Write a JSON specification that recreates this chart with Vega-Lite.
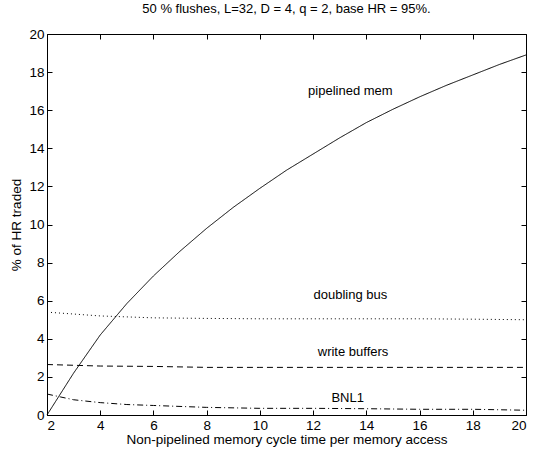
{
  "$schema": "https://vega.github.io/schema/vega-lite/v6.json",
  "autosize": "none",
  "width": 479,
  "height": 381,
  "padding": {"left": 47, "top": 34, "right": 7, "bottom": 34},
  "background": "white",
  "title": {"text": "50 % flushes, L=32, D = 4, q = 2, base HR = 95%.", "font": "Liberation Sans", "fontSize": 13, "fontWeight": "normal", "color": "black", "offset": 11, "anchor": "middle"},
  "config": {
    "view": {"stroke": "black", "strokeWidth": 1},
    "axis": {"grid": false, "domainColor": "black", "tickColor": "black", "labelColor": "black", "titleColor": "black", "labelFont": "Liberation Sans", "titleFont": "Liberation Sans", "labelFontSize": 13.5, "titleFontSize": 13.5, "titleFontWeight": "normal", "tickSize": -5, "labelPadding": 8}
  },
  "datasets": {
    "curves": [
      {"x": 2, "y": 0, "series": "pipelined mem"},
      {"x": 3, "y": 2.2, "series": "pipelined mem"},
      {"x": 4, "y": 4.2, "series": "pipelined mem"},
      {"x": 5, "y": 5.85, "series": "pipelined mem"},
      {"x": 6, "y": 7.3, "series": "pipelined mem"},
      {"x": 7, "y": 8.6, "series": "pipelined mem"},
      {"x": 8, "y": 9.8, "series": "pipelined mem"},
      {"x": 9, "y": 10.9, "series": "pipelined mem"},
      {"x": 10, "y": 11.9, "series": "pipelined mem"},
      {"x": 11, "y": 12.85, "series": "pipelined mem"},
      {"x": 12, "y": 13.7, "series": "pipelined mem"},
      {"x": 13, "y": 14.55, "series": "pipelined mem"},
      {"x": 14, "y": 15.35, "series": "pipelined mem"},
      {"x": 15, "y": 16.05, "series": "pipelined mem"},
      {"x": 16, "y": 16.7, "series": "pipelined mem"},
      {"x": 17, "y": 17.3, "series": "pipelined mem"},
      {"x": 18, "y": 17.85, "series": "pipelined mem"},
      {"x": 19, "y": 18.4, "series": "pipelined mem"},
      {"x": 20, "y": 18.9, "series": "pipelined mem"},
      {"x": 2, "y": 5.4, "series": "doubling bus"},
      {"x": 3, "y": 5.3, "series": "doubling bus"},
      {"x": 4, "y": 5.2, "series": "doubling bus"},
      {"x": 5, "y": 5.15, "series": "doubling bus"},
      {"x": 6, "y": 5.1, "series": "doubling bus"},
      {"x": 8, "y": 5.07, "series": "doubling bus"},
      {"x": 10, "y": 5.05, "series": "doubling bus"},
      {"x": 12, "y": 5.05, "series": "doubling bus"},
      {"x": 14, "y": 5.05, "series": "doubling bus"},
      {"x": 16, "y": 5.05, "series": "doubling bus"},
      {"x": 18, "y": 5.03, "series": "doubling bus"},
      {"x": 20, "y": 5.0, "series": "doubling bus"},
      {"x": 2, "y": 2.65, "series": "write buffers"},
      {"x": 4, "y": 2.57, "series": "write buffers"},
      {"x": 6, "y": 2.55, "series": "write buffers"},
      {"x": 8, "y": 2.5, "series": "write buffers"},
      {"x": 10, "y": 2.5, "series": "write buffers"},
      {"x": 12, "y": 2.5, "series": "write buffers"},
      {"x": 14, "y": 2.5, "series": "write buffers"},
      {"x": 16, "y": 2.5, "series": "write buffers"},
      {"x": 18, "y": 2.5, "series": "write buffers"},
      {"x": 20, "y": 2.5, "series": "write buffers"},
      {"x": 2, "y": 1.1, "series": "BNL1"},
      {"x": 2.5, "y": 0.95, "series": "BNL1"},
      {"x": 3, "y": 0.8, "series": "BNL1"},
      {"x": 4, "y": 0.65, "series": "BNL1"},
      {"x": 5, "y": 0.55, "series": "BNL1"},
      {"x": 6, "y": 0.5, "series": "BNL1"},
      {"x": 8, "y": 0.4, "series": "BNL1"},
      {"x": 10, "y": 0.35, "series": "BNL1"},
      {"x": 12, "y": 0.35, "series": "BNL1"},
      {"x": 14, "y": 0.33, "series": "BNL1"},
      {"x": 16, "y": 0.3, "series": "BNL1"},
      {"x": 18, "y": 0.3, "series": "BNL1"},
      {"x": 20, "y": 0.25, "series": "BNL1"}
    ],
    "labels": [
      {"x": 13.4, "y": 17.0, "text": "pipelined mem"},
      {"x": 13.4, "y": 6.3, "text": "doubling bus"},
      {"x": 13.5, "y": 3.3, "text": "write buffers"},
      {"x": 13.3, "y": 0.9, "text": "BNL1"}
    ]
  },
  "layer": [
    {
      "data": {"name": "curves"},
      "mark": {"type": "line", "color": "black", "strokeWidth": 1},
      "encoding": {
        "x": {"field": "x", "type": "quantitative", "scale": {"domain": [2, 20], "nice": false}, "axis": {"title": "Non-pipelined memory cycle time per memory access", "values": [2,4,6,8,10,12,14,16,18,20], "titlePadding": 1}},
        "y": {"field": "y", "type": "quantitative", "scale": {"domain": [0, 20], "nice": false}, "axis": {"title": "% of HR traded", "values": [0,2,4,6,8,10,12,14,16,18,20], "titlePadding": 5}},
        "detail": {"field": "series"},
        "strokeDash": {"field": "series", "type": "nominal", "legend": null, "scale": {"domain": ["pipelined mem", "doubling bus", "write buffers", "BNL1"], "range": [[1, 0], [1, 3], [6, 4], [6, 3, 1, 3]]}}
      }
    },
    {
      "data": {"name": "labels"},
      "mark": {"type": "text", "font": "Liberation Sans", "fontSize": 13, "color": "black"},
      "encoding": {
        "x": {"field": "x", "type": "quantitative", "axis": {"orient": "top", "labels": false, "title": null, "values": [2,4,6,8,10,12,14,16,18,20], "domain": false}},
        "y": {"field": "y", "type": "quantitative", "axis": {"orient": "right", "labels": false, "title": null, "values": [0,2,4,6,8,10,12,14,16,18,20], "domain": false}},
        "text": {"field": "text"}
      }
    }
  ],
  "resolve": {"axis": {"x": "independent", "y": "independent"}}
}
